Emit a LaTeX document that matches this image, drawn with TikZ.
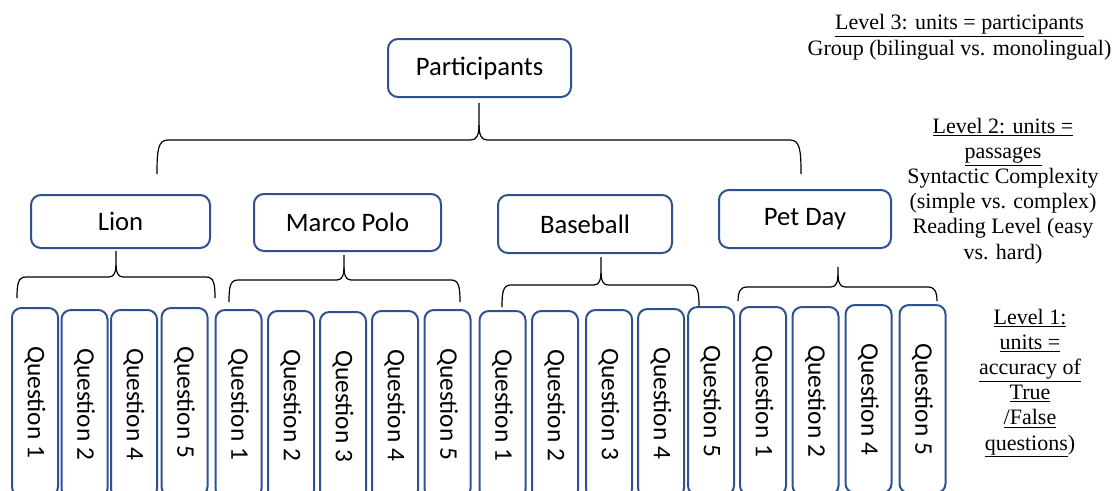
\documentclass[tikz,border=0pt]{standalone}
\usepackage{fontspec}
\setmainfont{Carlito}
\newfontfamily\timesfont{Liberation Serif}
\usepackage{tikz}
\definecolor{boxblue}{RGB}{47,82,143}

\begin{document}
\begin{tikzpicture}[x=0.75pt,y=0.75pt,yscale=-1,xscale=1,
  pbox/.style={draw=boxblue,line width=1.5pt,rounded corners=7.5pt,inner sep=0pt,font=\fontsize{20}{24}\selectfont},
  qbox/.style={draw=boxblue,line width=1.5pt,rounded corners=7pt,inner sep=0pt,rotate=-90,minimum width=141pt,minimum height=34.5pt,font=\fontsize{19}{22}\selectfont},
  bracestyle/.style={draw=black,line width=0.9pt},
  levelnote/.style={align=center,inner sep=0pt,anchor=base,font=\timesfont\fontsize{16.5}{18.9}\selectfont}]
\useasboundingbox (0,0) rectangle (1113,490);
\clip (0,0) rectangle (1113,490);

%Shape: Rounded Rect [id:participants]
\node[pbox,minimum width=137.25pt,minimum height=43.5pt] (participants) at (479.5,68) {Participants};

%Shape: Brace [id:topbrace]
\draw[bracestyle] (157,174) .. controls (157,150) and (158,140) .. (168,140) -- (471,140) .. controls (477,140) and (479,134) .. (479,125) -- (479,103) ;
\draw[bracestyle] (801,174) .. controls (801,150) and (800,140) .. (790,140) -- (487,140) .. controls (481,140) and (479,134) .. (479,125) ;

%Shape: Rounded Rect [id:passages]
\node[pbox,minimum width=134.25pt,minimum height=39.75pt] (lion) at (120.5,221.5) {Lion};
\node[pbox,minimum width=140.25pt,minimum height=42.75pt] (marco) at (347.5,222.5) {Marco Polo};
\node[pbox,minimum width=130.5pt,minimum height=43.5pt] (baseball) at (585,224) {Baseball};
\node[pbox,minimum width=129pt,minimum height=43.5pt] (petday) at (805,219) {Pet Day};

%Shape: Brace [id:lionbrace]
\draw[bracestyle] (17,298) .. controls (17,284) and (18,277) .. (26,277) -- (109,277) .. controls (114,277) and (116,272) .. (116,265) -- (116,251) ;
\draw[bracestyle] (215,298) .. controls (215,284) and (214,277) .. (206,277) -- (123,277) .. controls (118,277) and (116,272) .. (116,265) ;
%Shape: Brace [id:marcobrace]
\draw[bracestyle] (229,302) .. controls (229,287) and (230,280) .. (238,280) -- (337,280) .. controls (342,280) and (344,275) .. (344,268) -- (344,255) ;
\draw[bracestyle] (460,302) .. controls (460,287) and (459,280) .. (451,280) -- (351,280) .. controls (346,280) and (344,275) .. (344,268) ;
%Shape: Brace [id:baseballbrace]
\draw[bracestyle] (502,307) .. controls (502,292) and (503,285) .. (511,285) -- (594,285) .. controls (599,285) and (601,280) .. (601,273) -- (601,257) ;
\draw[bracestyle] (699,307) .. controls (699,292) and (698,285) .. (690,285) -- (608,285) .. controls (603,285) and (601,280) .. (601,273) ;
%Shape: Brace [id:petbrace]
\draw[bracestyle] (738,301) .. controls (738,294) and (739,287) .. (747,287) -- (831,287) .. controls (836,287) and (838,282) .. (838,275) -- (838,267) ;
\draw[bracestyle] (937,301) .. controls (937,294) and (936,287) .. (928,287) -- (845,287) .. controls (840,287) and (838,282) .. (838,275) ;

%Shape: Rounded Rect [id:lion questions]
\node[qbox] (lionq1) at (35,402) {Question 1};
\node[qbox] (lionq2) at (84.5,404) {Question 2};
\node[qbox] (lionq4) at (134,404) {Question 4};
\node[qbox] (lionq5) at (184.5,402) {Question 5};
%Shape: Rounded Rect [id:marco questions]
\node[qbox] (marcoq1) at (238.5,404) {Question 1};
\node[qbox] (marcoq2) at (291,405) {Question 2};
\node[qbox] (marcoq3) at (343,406) {Question 3};
\node[qbox] (marcoq4) at (395,405) {Question 4};
\node[qbox] (marcoq5) at (447.5,404) {Question 5};
%Shape: Rounded Rect [id:baseball questions]
\node[qbox] (baseq1) at (502.5,405) {Question 1};
\node[qbox] (baseq2) at (555,405) {Question 2};
\node[qbox] (baseq3) at (609,404) {Question 3};
\node[qbox] (baseq4) at (661,403) {Question 4};
\node[qbox] (baseq5) at (711,401) {Question 5};
%Shape: Rounded Rect [id:pet questions]
\node[qbox] (petq1) at (763,401) {Question 1};
\node[qbox] (petq2) at (815.5,401) {Question 2};
\node[qbox] (petq4) at (868.5,399) {Question 4};
\node[qbox] (petq5) at (922.5,399) {Question 5};

% Text: level notes (base = last line)
\node[levelnote] (level3) at (959.5,55) {\underline{Level 3: units = participants}\\Group (bilingual vs. monolingual)};
\node[levelnote] (level2) at (1003,259) {\underline{Level 2: units =}\\\underline{passages}\\Syntactic Complexity\\(simple vs. complex)\\Reading Level (easy\\vs. hard)};
\node[levelnote] (level1) at (1030,450) {\underline{Level 1:}\\\underline{units =}\\\underline{accuracy of}\\\underline{True}\\\underline{/False}\\\underline{questions})};

\end{tikzpicture}
\end{document}
